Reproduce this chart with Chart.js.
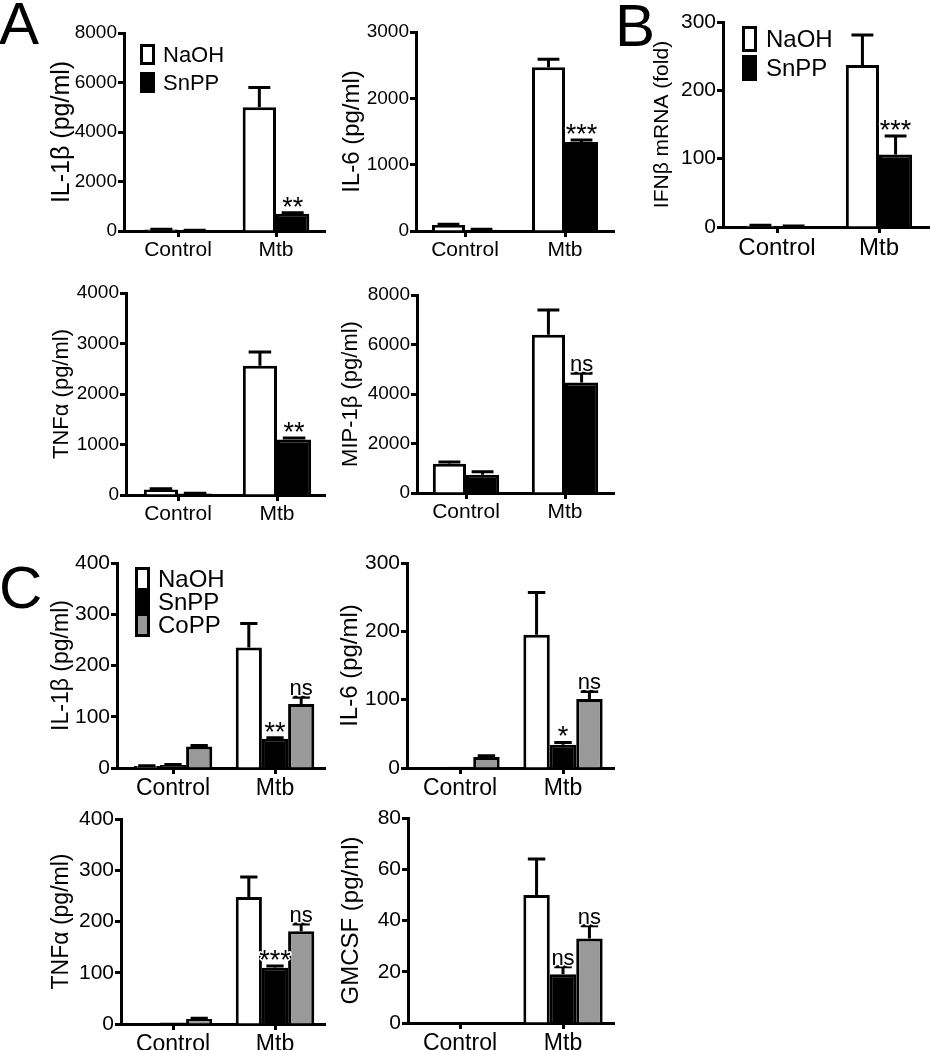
<!DOCTYPE html>
<html>
<head>
<meta charset="utf-8">
<script src="https://cdn.jsdelivr.net/npm/chart.js@4"></script>
<style>
html,body{margin:0;padding:0;background:#fff;}
body{width:930px;height:1050px;position:relative;overflow:hidden;font-family:"Liberation Sans",Arial,Helvetica,sans-serif;}
canvas{position:absolute;}
.plabel{position:absolute;font-size:60px;line-height:60px;color:#000;}
</style>
</head>
<body>
<div class="plabel" style="left:-1px;top:-6px">A</div>
<div class="plabel" style="left:615px;top:-4px">B</div>
<div class="plabel" style="left:-1px;top:558px">C</div>
<script>
// ---------- categories / labels ----------
const groups = ['Control', 'Mtb'];
const treatments = ['NaOH', 'SnPP', 'CoPP'];

// ---------- Panel A: IL-1β ----------
const a1Ticks = [0, 2000, 4000, 6000, 8000];
const a1NaOH = [60, 5000];   const a1NaOHErr = [10, 800];
const a1SnPP = [30, 700];    const a1SnPPErr = [5, 40];
const a1SnPPSig = ['', '**'];

// ---------- Panel A: IL-6 ----------
const a2Ticks = [0, 1000, 2000, 3000];
const a2NaOH = [90, 2470];   const a2NaOHErr = [10, 120];
const a2SnPP = [20, 1340];   const a2SnPPErr = [5, 30];
const a2SnPPSig = ['', '***'];

// ---------- Panel B: IFNβ mRNA ----------
const bTicks = [0, 100, 200, 300];
const bNaOH = [2, 237];      const bNaOHErr = [0.5, 44];
const bSnPP = [1, 106];      const bSnPPErr = [0.5, 27];
const bSnPPSig = ['', '***'];

// ---------- Panel A: TNFα ----------
const a3Ticks = [0, 1000, 2000, 3000, 4000];
const a3NaOH = [110, 2560];  const a3NaOHErr = [15, 270];
const a3SnPP = [30, 1100];   const a3SnPPErr = [5, 30];
const a3SnPPSig = ['', '**'];

// ---------- Panel A: MIP-1β ----------
const a4Ticks = [0, 2000, 4000, 6000, 8000];
const a4NaOH = [1180, 6390]; const a4NaOHErr = [70, 1000];
const a4SnPP = [740, 4460];  const a4SnPPErr = [120, 380];
const a4SnPPSig = ['', 'ns'];

// ---------- Panel C: IL-1β ----------
const c1Ticks = [0, 100, 200, 300, 400];
const c1NaOH = [4, 235];     const c1NaOHErr = [0.5, 47];
const c1SnPP = [6, 57];      const c1SnPPErr = [1, 2];
const c1CoPP = [42, 125];    const c1CoPPErr = [2, 13];
const c1SnPPSig = ['', '**'];
const c1CoPPSig = ['', 'ns'];

// ---------- Panel C: IL-6 ----------
const c2Ticks = [0, 100, 200, 300];
const c2NaOH = [1, 195];     const c2NaOHErr = [0, 62];
const c2SnPP = [2, 34];      const c2SnPPErr = [0, 3.5];
const c2CoPP = [16, 101];    const c2CoPPErr = [2, 11];
const c2SnPPSig = ['', '*'];
const c2CoPPSig = ['', 'ns'];

// ---------- Panel C: TNFα ----------
const c3Ticks = [0, 100, 200, 300, 400];
const c3NaOH = [1, 248];     const c3NaOHErr = [0, 39];
const c3SnPP = [3, 110];     const c3SnPPErr = [0, 3];
const c3CoPP = [10, 181];    const c3CoPPErr = [1, 14];
const c3SnPPSig = ['', '***'];
const c3CoPPSig = ['', 'ns'];

// ---------- Panel C: GMCSF ----------
const c4Ticks = [0, 20, 40, 60, 80];
const c4NaOH = [0, 50];      const c4NaOHErr = [0, 14];
const c4SnPP = [0, 19];      const c4SnPPErr = [0, 3];
const c4CoPP = [0, 33];      const c4CoPPErr = [0, 5];
const c4SnPPSig = ['', 'ns'];
const c4CoPPSig = ['', 'ns'];

// ---------- styles ----------
const FONT = '"Liberation Sans", Arial, Helvetica, sans-serif';
const fills = {NaOH: '#ffffff', SnPP: '#000000', CoPP: '#999999'};
Chart.defaults.font.family = FONT;
Chart.defaults.color = '#000';

// ---------- plugins ----------
const errorBars = {
  id: 'errorBars',
  afterDatasetsDraw(chart) {
    const ctx = chart.ctx, ys = chart.scales.y;
    chart.data.datasets.forEach((ds, di) => {
      const meta = chart.getDatasetMeta(di);
      meta.data.forEach((bar, i) => {
        const v = ds.data[i].y, e = ds.errors ? ds.errors[i] : 0;
        const yTop = ys.getPixelForValue(v + (e || 0));
        if (e) {
          ctx.save();
          ctx.strokeStyle = '#000'; ctx.lineWidth = 3; ctx.lineCap = 'butt';
          ctx.beginPath();
          ctx.moveTo(bar.x, bar.y); ctx.lineTo(bar.x, yTop);
          const hw = bar.width * 0.33;
          ctx.moveTo(bar.x - hw, yTop); ctx.lineTo(bar.x + hw, yTop);
          ctx.stroke();
          ctx.restore();
        }
        const s = ds.sig ? ds.sig[i] : '';
        if (s) {
          ctx.save();
          const star = s.indexOf('*') >= 0;
          ctx.font = (star ? 27 : 22) + 'px ' + FONT;
          ctx.textAlign = 'center'; ctx.textBaseline = 'alphabetic';
          const ty = star ? yTop + 3 : yTop - 2;
          ctx.lineWidth = 3; ctx.strokeStyle = '#fff'; ctx.lineJoin = 'round';
          ctx.strokeText(s, bar.x, ty);
          ctx.fillStyle = '#000';
          ctx.fillText(s, bar.x, ty);
          ctx.restore();
        }
      });
    });
  }
};

const panelLegend = {
  id: 'panelLegend',
  afterDraw(chart, args, o) {
    if (!o || !o.show) return;
    const ctx = chart.ctx;
    chart.data.datasets.forEach((ds, i) => {
      const top = o.y + i * o.rowH;
      ctx.save();
      ctx.fillStyle = '#000';
      ctx.fillRect(o.x, top, o.boxW, o.boxH);
      ctx.fillStyle = ds.backgroundColor;
      ctx.fillRect(o.x + 3, top + 3, o.boxW - 6, o.boxH - 6);
      ctx.font = o.size + 'px ' + FONT;
      ctx.fillStyle = '#000';
      ctx.textAlign = 'left'; ctx.textBaseline = 'middle';
      ctx.fillText(ds.label, o.textX, top + o.boxH / 2 + 1);
      ctx.restore();
    });
  }
};

// ---------- panel builder ----------
function makePanel(L, title, yTicks, series, legend) {
  const lineH = L.titleSize * 1.2;
  const cLeft = Math.round(L.titleX - lineH / 2);
  const cTop = L.axisTop - 16;
  const xH = 40;
  const cW = L.axisRight - cLeft;
  const cH = L.axisBottom - cTop + xH;
  const cv = document.createElement('canvas');
  cv.width = cW; cv.height = cH;
  cv.style.left = cLeft + 'px'; cv.style.top = cTop + 'px';
  cv.style.width = cW + 'px'; cv.style.height = cH + 'px';
  document.body.appendChild(cv);
  const unit = L.c1 - L.c0;
  const axisGrid = {drawOnChartArea: false, drawTicks: true, tickLength: 6, tickWidth: 3, tickColor: '#000', offset: false};
  const axisBorder = {display: true, color: '#000', width: 3};
  const leg = legend ? Object.assign({show: true}, legend, {
    x: legend.x - cLeft, y: legend.y - cTop, textX: legend.textX - cLeft
  }) : {show: false};
  new Chart(cv, {
    type: 'bar',
    data: {
      datasets: series.map(s => ({
        label: s.label,
        data: groups.map((g, i) => ({x: i, y: s.values[i]})),
        errors: s.errors,
        sig: s.sig,
        backgroundColor: fills[s.label],
        borderColor: '#000',
        borderWidth: 3,
        barPercentage: 1,
        categoryPercentage: L.catPct
      }))
    },
    options: {
      responsive: false,
      animation: false,
      devicePixelRatio: 1,
      events: [],
      layout: {padding: {top: 16, left: 0, right: 0, bottom: 0}},
      plugins: {legend: {display: false}, tooltip: {enabled: false}, panelLegend: leg},
      scales: {
        x: {
          type: 'linear', position: 'bottom', offset: false, z: 1,
          min: (L.axisLeft - L.c0) / unit,
          max: (L.axisRight - L.c0) / unit,
          afterBuildTicks: s => { s.ticks = groups.map((g, i) => ({value: i})); },
          afterFit: s => { s.height = xH; },
          ticks: {font: {size: L.labelSize}, color: '#000', padding: 1, maxRotation: 0, autoSkip: false,
                  callback: v => groups[v] !== undefined ? groups[v] : ''},
          grid: axisGrid, border: axisBorder
        },
        y: {
          type: 'linear', min: 0, max: yTicks[yTicks.length - 1], z: 1,
          afterBuildTicks: s => { s.ticks = yTicks.map(v => ({value: v})); },
          afterFit: s => { s.width = L.axisLeft - cLeft; },
          ticks: {font: {size: L.tickSize}, color: '#000', padding: 1, callback: v => String(v)},
          grid: axisGrid, border: axisBorder,
          title: {display: true, text: title, font: {size: L.titleSize}, color: '#000', padding: 0}
        }
      }
    },
    plugins: [errorBars, panelLegend]
  });
}

// ---------- build panels ----------
makePanel({axisLeft:124, axisRight:326, axisTop:33, axisBottom:231, c0:178, c1:276, titleX:62, titleSize:25, tickSize:19, labelSize:21, catPct:0.68},
  'IL-1β (pg/ml)', a1Ticks,
  [{label:treatments[0], values:a1NaOH, errors:a1NaOHErr},
   {label:treatments[1], values:a1SnPP, errors:a1SnPPErr, sig:a1SnPPSig}],
  {x:140, y:44, boxW:15, boxH:21, rowH:28, textX:163, size:22});

makePanel({axisLeft:416, axisRight:615, axisTop:32, axisBottom:231, c0:465, c1:565, titleX:352, titleSize:24, tickSize:19, labelSize:21, catPct:0.66},
  'IL-6 (pg/ml)', a2Ticks,
  [{label:treatments[0], values:a2NaOH, errors:a2NaOHErr},
   {label:treatments[1], values:a2SnPP, errors:a2SnPPErr, sig:a2SnPPSig}]);

makePanel({axisLeft:723, axisRight:930, axisTop:22, axisBottom:227, c0:777, c1:879, titleX:663, titleSize:21, tickSize:21, labelSize:24, catPct:0.65},
  'IFNβ mRNA (fold)', bTicks,
  [{label:treatments[0], values:bNaOH, errors:bNaOHErr},
   {label:treatments[1], values:bSnPP, errors:bSnPPErr, sig:bSnPPSig}],
  {x:742, y:26, boxW:15, boxH:26, rowH:29, textX:766, size:24});

makePanel({axisLeft:126, axisRight:326, axisTop:293, axisBottom:495, c0:178, c1:277, titleX:62, titleSize:22, tickSize:19, labelSize:21, catPct:0.69},
  'TNFα (pg/ml)', a3Ticks,
  [{label:treatments[0], values:a3NaOH, errors:a3NaOHErr},
   {label:treatments[1], values:a3SnPP, errors:a3SnPPErr, sig:a3SnPPSig}]);

makePanel({axisLeft:417, axisRight:615, axisTop:295, axisBottom:493, c0:466, c1:565, titleX:351, titleSize:22, tickSize:19, labelSize:21, catPct:0.67},
  'MIP-1β (pg/ml)', a4Ticks,
  [{label:treatments[0], values:a4NaOH, errors:a4NaOHErr},
   {label:treatments[1], values:a4SnPP, errors:a4SnPPErr, sig:a4SnPPSig}]);

makePanel({axisLeft:117, axisRight:326, axisTop:563, axisBottom:768, c0:173, c1:275, titleX:62, titleSize:23, tickSize:21, labelSize:23, catPct:0.77},
  'IL-1β (pg/ml)', c1Ticks,
  [{label:treatments[0], values:c1NaOH, errors:c1NaOHErr},
   {label:treatments[1], values:c1SnPP, errors:c1SnPPErr, sig:c1SnPPSig},
   {label:treatments[2], values:c1CoPP, errors:c1CoPPErr, sig:c1CoPPSig}],
  {x:135, y:567, boxW:15, boxH:24, rowH:23, textX:158, size:24});

makePanel({axisLeft:407, axisRight:615, axisTop:563, axisBottom:768, c0:460, c1:563, titleX:350, titleSize:24, tickSize:21, labelSize:23, catPct:0.77},
  'IL-6 (pg/ml)', c2Ticks,
  [{label:treatments[0], values:c2NaOH, errors:c2NaOHErr},
   {label:treatments[1], values:c2SnPP, errors:c2SnPPErr, sig:c2SnPPSig},
   {label:treatments[2], values:c2CoPP, errors:c2CoPPErr, sig:c2CoPPSig}]);

makePanel({axisLeft:121, axisRight:326, axisTop:819, axisBottom:1024, c0:173, c1:275, titleX:62, titleSize:23, tickSize:21, labelSize:23, catPct:0.77},
  'TNFα (pg/ml)', c3Ticks,
  [{label:treatments[0], values:c3NaOH, errors:c3NaOHErr},
   {label:treatments[1], values:c3SnPP, errors:c3SnPPErr, sig:c3SnPPSig},
   {label:treatments[2], values:c3CoPP, errors:c3CoPPErr, sig:c3CoPPSig}]);

makePanel({axisLeft:408, axisRight:615, axisTop:818, axisBottom:1023, c0:460, c1:563, titleX:351, titleSize:24, tickSize:21, labelSize:23, catPct:0.77},
  'GMCSF (pg/ml)', c4Ticks,
  [{label:treatments[0], values:c4NaOH, errors:c4NaOHErr},
   {label:treatments[1], values:c4SnPP, errors:c4SnPPErr, sig:c4SnPPSig},
   {label:treatments[2], values:c4CoPP, errors:c4CoPPErr, sig:c4CoPPSig}]);
</script>
</body>
</html>
